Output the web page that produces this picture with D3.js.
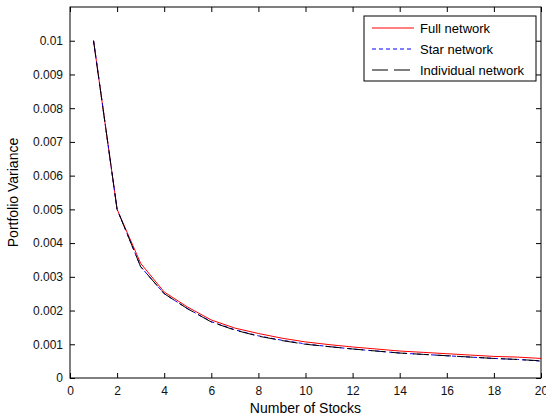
<!DOCTYPE html>
<html>
<head>
<meta charset="utf-8">
<script src="https://cdn.jsdelivr.net/npm/d3@7"></script>
<style>
  body { margin: 0; background: #fff; }
  svg { font-family: "Liberation Sans", Arial, sans-serif; }
</style>
</head>
<body>
<svg id="chart" width="546" height="419"></svg>
<script>
// data
var stocks = d3.range(1, 21);
var fullNetwork = [0.0100, 0.0050, 0.0034, 0.00255, 0.00210, 0.00172, 0.00148, 0.00132, 0.00118, 0.00107,
                   0.00099, 0.00092, 0.00086, 0.00080, 0.00076, 0.00072, 0.00068, 0.00064, 0.00062, 0.00058];
var starNetwork = [0.0100, 0.0050, 0.0033, 0.00250, 0.00205, 0.00167, 0.00143, 0.00125, 0.00112, 0.00101,
                   0.00093, 0.00086, 0.00080, 0.00074, 0.00070, 0.00066, 0.00062, 0.00058, 0.00055, 0.00050];
var individualNetwork = [0.0100, 0.0050, 0.0033, 0.00250, 0.00205, 0.00166, 0.00142, 0.00124, 0.00111, 0.00100,
                   0.00093, 0.00086, 0.00080, 0.00074, 0.00070, 0.00066, 0.00062, 0.00058, 0.00055, 0.00051];
var xTicks = d3.range(0, 21, 2);
var yTicks = d3.range(0, 11).map(function (i) { return i / 1000; });
var seriesNames = ["Full network", "Star network", "Individual network"];

var margin = {top: 7, right: 5, bottom: 41, left: 70};
var svg = d3.select("#chart");
var width = 546 - margin.left - margin.right;
var height = 419 - margin.top - margin.bottom;

var g = svg.append("g")
    .attr("transform", "translate(" + margin.left + "," + margin.top + ")");

var x = d3.scaleLinear().domain([0, 20]).range([0, width]);
var y = d3.scaleLinear().domain([0, 0.011]).range([height, 0]);

// axes, matlab style: ticks inside, box all round
function styleAxis(sel) {
    sel.select(".domain").remove();
    sel.selectAll("line").attr("stroke", "#000");
    sel.selectAll("text").attr("fill", "#111").style("font-size", "12px");
}
g.append("g").attr("transform", "translate(0," + height + ")")
    .call(d3.axisBottom(x).tickValues(xTicks).tickSize(-5).tickPadding(8).tickFormat(d3.format("d")))
    .call(styleAxis);
g.append("g")
    .call(d3.axisTop(x).tickValues(xTicks).tickSize(-5).tickFormat(""))
    .call(styleAxis);
g.append("g")
    .call(d3.axisLeft(y).tickValues(yTicks).tickSize(-5).tickPadding(7)
        .tickFormat(function (d) { return d === 0 ? "0" : d3.format("")(+d.toFixed(3)); }))
    .call(styleAxis);
g.append("g").attr("transform", "translate(" + width + ",0)")
    .call(d3.axisRight(y).tickValues(yTicks).tickSize(-5).tickFormat(""))
    .call(styleAxis);

g.append("rect")
    .attr("width", width).attr("height", height)
    .attr("fill", "none").attr("stroke", "#000").attr("stroke-width", 1);

var line = d3.line()
    .x(function (d, i) { return x(stocks[i]); })
    .y(function (d) { return y(d); });

var styles = [
    {data: fullNetwork, color: "#ff0000", dash: null},
    {data: starNetwork, color: "#0000ff", dash: "4,3"},
    {data: individualNetwork, color: "#000000", dash: "16,6"}
];
styles.forEach(function (s) {
    g.append("path")
        .attr("d", line(s.data))
        .attr("fill", "none")
        .attr("stroke", s.color)
        .attr("stroke-width", 1)
        .attr("stroke-dasharray", s.dash);
});

// legend
var legend = g.append("g").attr("transform", "translate(294,9)");
legend.append("rect")
    .attr("width", 172).attr("height", 65)
    .attr("fill", "#fff").attr("stroke", "#000");
styles.forEach(function (s, i) {
    var ly = 12 + i * 21;
    legend.append("line")
        .attr("x1", 8).attr("x2", 50).attr("y1", ly).attr("y2", ly)
        .attr("stroke", s.color).attr("stroke-dasharray", s.dash);
    legend.append("text")
        .attr("x", 56).attr("y", ly + 5)
        .style("font-size", "13px")
        .text(seriesNames[i]);
});

// axis labels
svg.append("text")
    .attr("x", margin.left + width / 2).attr("y", 413)
    .attr("text-anchor", "middle").style("font-size", "14px")
    .text("Number of Stocks");
svg.append("text")
    .attr("transform", "translate(18," + (margin.top + height / 2) + ") rotate(-90)")
    .attr("text-anchor", "middle").style("font-size", "14px")
    .text("Portfolio Variance");
</script>
</body>
</html>
